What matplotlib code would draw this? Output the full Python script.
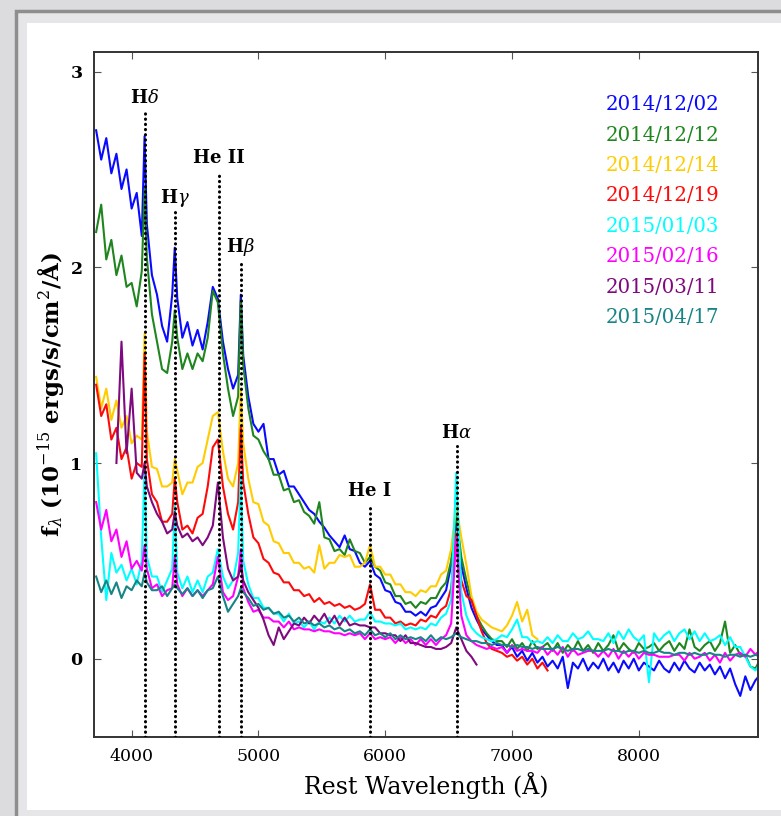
"""
Spectral sequence of a transient: 8 epochs, flux vs rest wavelength,
with the main Balmer / He lines marked.
"""
import numpy as np
import matplotlib
matplotlib.use("Agg")
import matplotlib.pyplot as plt
from matplotlib.patches import Rectangle

plt.rcParams["font.family"] = ["DejaVu Serif"]
plt.rcParams["mathtext.fontset"] = "dejavuserif"

# ---- data ----
STEP = 40.0  # sampling of the flux lists, Angstrom

dates = ["2014/12/02", "2014/12/12", "2014/12/14", "2014/12/19",
         "2015/01/03", "2015/02/16", "2015/03/11", "2015/04/17"]
colors = ["#0a0aff", "#1f861f", "#ffcc00", "#ff0a0a",
          "#00ffff", "#ff00ff", "#7f0a7f", "#178585"]

starts = [3720, 3720, 3720, 3720, 3720, 3720, 3880, 3720]

flux_1202 = [
    2.70, 2.55, 2.66, 2.48, 2.58, 2.40, 2.50, 2.30, 2.38, 2.16,
    2.22, 1.96, 1.86, 1.70, 1.62, 1.86, 1.84, 1.64, 1.72, 1.60,
    1.68, 1.58, 1.72, 1.90, 1.84, 1.62, 1.48, 1.38, 1.45, 1.55,
    1.34, 1.20, 1.16, 1.20, 1.02, 1.02, 0.94, 0.96, 0.88, 0.88,
    0.84, 0.80, 0.76, 0.74, 0.70, 0.67, 0.63, 0.60, 0.57, 0.63,
    0.56, 0.55, 0.49, 0.47, 0.50, 0.43, 0.41, 0.35, 0.34, 0.29,
    0.28, 0.24, 0.24, 0.22, 0.24, 0.22, 0.26, 0.27, 0.31, 0.35,
    0.48, 0.72, 0.48, 0.36, 0.26, 0.20, 0.15, 0.12, 0.09, 0.07,
    0.07, 0.03, 0.06, 0.01, 0.04, -0.01, 0.03, -0.02, 0.01, -0.04,
    -0.01, -0.05, 0.01, -0.15, -0.02, -0.05, 0.00, -0.06, -0.02, -0.05,
    0.00, -0.06, -0.02, -0.07, -0.01, -0.05, 0.00, -0.06, -0.02, -0.04,
    -0.06, -0.01, -0.05, -0.07, -0.02, -0.06, -0.01, -0.05, -0.07, -0.02,
    -0.06, -0.03, -0.08, -0.04, -0.10, -0.05, -0.13, -0.19, -0.09, -0.16,
    -0.11, -0.08,
]
flux_1212 = [
    2.18, 2.32, 2.04, 2.14, 1.96, 2.06, 1.90, 1.92, 1.80, 1.98,
    2.05, 1.76, 1.62, 1.48, 1.46, 1.62, 1.64, 1.48, 1.56, 1.48,
    1.56, 1.52, 1.64, 1.88, 1.82, 1.56, 1.38, 1.24, 1.34, 1.50,
    1.28, 1.14, 1.12, 1.06, 1.02, 0.94, 0.94, 0.86, 0.87, 0.80,
    0.81, 0.75, 0.73, 0.69, 0.80, 0.62, 0.61, 0.55, 0.56, 0.53,
    0.61, 0.55, 0.54, 0.49, 0.52, 0.47, 0.45, 0.39, 0.38, 0.32,
    0.32, 0.28, 0.29, 0.26, 0.29, 0.28, 0.31, 0.31, 0.36, 0.39,
    0.50, 0.74, 0.52, 0.40, 0.30, 0.22, 0.17, 0.13, 0.10, 0.09,
    0.09, 0.06, 0.10, 0.05, 0.08, 0.04, 0.09, 0.05, 0.06, 0.08,
    0.04, 0.08, 0.03, 0.07, 0.04, 0.09, 0.04, 0.07, 0.03, 0.08,
    0.04, 0.07, 0.12, 0.04, 0.08, 0.05, 0.03, 0.08, 0.05, 0.06,
    0.08, 0.04, 0.07, 0.09, 0.04, 0.08, 0.05, 0.15, 0.06, 0.04,
    0.07, 0.09, 0.04, 0.08, 0.19, 0.03, 0.07, 0.02, 0.02, -0.04,
    -0.05, 0.00,
]
flux_1214 = [
    1.44, 1.28, 1.38, 1.22, 1.32, 1.18, 1.24, 1.10, 1.14, 1.12,
    1.16, 0.98, 0.97, 0.88, 0.88, 0.90, 0.96, 0.84, 0.90, 0.90,
    0.98, 1.00, 1.12, 1.24, 1.26, 1.06, 0.92, 0.88, 1.00, 1.10,
    0.92, 0.80, 0.79, 0.70, 0.68, 0.60, 0.59, 0.54, 0.54, 0.49,
    0.49, 0.46, 0.47, 0.44, 0.58, 0.46, 0.49, 0.49, 0.53, 0.52,
    0.53, 0.47, 0.47, 0.49, 0.58, 0.47, 0.47, 0.43, 0.43, 0.38,
    0.38, 0.34, 0.34, 0.32, 0.35, 0.34, 0.37, 0.37, 0.43, 0.45,
    0.56, 0.78, 0.62, 0.48, 0.32, 0.24, 0.20, 0.18, 0.16, 0.15,
    0.14, 0.17, 0.22, 0.29, 0.19, 0.25, 0.12, 0.10,
]
flux_1219 = [
    1.40, 1.24, 1.30, 1.12, 1.18, 1.02, 1.08, 0.92, 1.00, 0.98,
    1.02, 0.84, 0.80, 0.70, 0.70, 0.74, 0.80, 0.66, 0.68, 0.64,
    0.72, 0.74, 0.88, 1.08, 1.12, 0.88, 0.74, 0.66, 0.80, 0.90,
    0.74, 0.62, 0.59, 0.51, 0.49, 0.44, 0.43, 0.39, 0.39, 0.35,
    0.35, 0.32, 0.33, 0.29, 0.31, 0.28, 0.29, 0.27, 0.28, 0.26,
    0.27, 0.25, 0.26, 0.28, 0.38, 0.25, 0.25, 0.21, 0.21, 0.18,
    0.19, 0.17, 0.18, 0.17, 0.20, 0.19, 0.22, 0.21, 0.25, 0.27,
    0.36, 0.64, 0.40, 0.32, 0.30, 0.22, 0.14, 0.08, 0.05, 0.04,
    0.03, 0.01, 0.02, -0.01, 0.01, -0.03, 0.00, -0.05, -0.02, -0.06,
]
flux_0103 = [
    1.05, 0.62, 0.30, 0.54, 0.44, 0.48, 0.40, 0.46, 0.38, 0.50,
    0.52, 0.42, 0.42, 0.34, 0.40, 0.46, 0.44, 0.36, 0.42, 0.34,
    0.40, 0.34, 0.42, 0.44, 0.56, 0.42, 0.36, 0.40, 0.54, 0.50,
    0.38, 0.31, 0.31, 0.26, 0.26, 0.23, 0.23, 0.19, 0.23, 0.18,
    0.19, 0.16, 0.19, 0.15, 0.19, 0.18, 0.21, 0.18, 0.22, 0.19,
    0.22, 0.19, 0.20, 0.20, 0.24, 0.19, 0.19, 0.18, 0.18, 0.17,
    0.18, 0.15, 0.16, 0.15, 0.16, 0.15, 0.18, 0.17, 0.21, 0.23,
    0.30, 0.95, 0.34, 0.22, 0.16, 0.13, 0.11, 0.10, 0.09, 0.10,
    0.12, 0.11, 0.15, 0.20, 0.11, 0.11, 0.08, 0.09, 0.08, 0.11,
    0.08, 0.12, 0.09, 0.09, 0.13, 0.10, 0.11, 0.14, 0.10, 0.10,
    0.09, 0.13, 0.08, 0.14, 0.10, 0.15, 0.11, 0.09, 0.12, -0.12,
    0.13, 0.09, 0.12, 0.14, 0.09, 0.13, 0.15, 0.10, 0.14, 0.09,
    0.13, 0.09, 0.10, 0.12, 0.07, 0.11, 0.06, 0.06, 0.01, -0.04,
    -0.06, -0.02,
]
flux_0216 = [
    0.80, 0.66, 0.76, 0.60, 0.66, 0.52, 0.60, 0.46, 0.50, 0.45,
    0.46, 0.36, 0.38, 0.32, 0.35, 0.36, 0.38, 0.32, 0.36, 0.32,
    0.35, 0.32, 0.35, 0.38, 0.52, 0.34, 0.30, 0.32, 0.42, 0.36,
    0.29, 0.24, 0.25, 0.21, 0.21, 0.19, 0.19, 0.16, 0.19, 0.15,
    0.16, 0.15, 0.15, 0.14, 0.15, 0.14, 0.14, 0.13, 0.13, 0.12,
    0.13, 0.12, 0.13, 0.10, 0.13, 0.10, 0.11, 0.10, 0.11, 0.08,
    0.11, 0.08, 0.10, 0.07, 0.10, 0.07, 0.10, 0.07, 0.10, 0.12,
    0.18, 0.62, 0.22, 0.12, 0.09, 0.07, 0.06, 0.05, 0.06, 0.05,
    0.06, 0.03, 0.07, 0.04, 0.05, 0.04, 0.04, 0.03, 0.06, 0.02,
    0.05, 0.02, 0.06, 0.01, 0.05, 0.02, 0.03, 0.04, 0.04, 0.01,
    0.04, 0.01, 0.05, 0.00, 0.04, 0.01, 0.04, 0.00, 0.03, 0.02,
    0.02, 0.01, 0.01, 0.01, 0.02, 0.02, -0.01, 0.03, 0.00, 0.01,
    0.03, -0.01, 0.02, -0.02, 0.03, -0.01, 0.02, 0.03, 0.01, 0.05,
    0.02, 0.05,
]
flux_0311 = [
    1.00, 1.62, 1.05, 1.38, 0.95, 0.92,
    0.88, 0.80, 0.74, 0.70, 0.64, 0.66, 0.68, 0.62, 0.64, 0.60,
    0.62, 0.58, 0.62, 0.68, 0.90, 0.62, 0.46, 0.40, 0.42, 0.40,
    0.34, 0.30, 0.26, 0.20, 0.12, 0.07, 0.16, 0.10, 0.14, 0.18,
    0.17, 0.21, 0.18, 0.22, 0.19, 0.23, 0.18, 0.22, 0.17, 0.21,
    0.17, 0.18, 0.17, 0.17, 0.16, 0.16, 0.13, 0.13, 0.12, 0.12,
    0.09, 0.12, 0.08, 0.08, 0.07, 0.06, 0.06, 0.05, 0.05, 0.06,
    0.08, 0.16, 0.10, 0.04, 0.01, -0.03,
]
flux_0417 = [
    0.42, 0.34, 0.40, 0.33, 0.39, 0.31, 0.37, 0.35, 0.40, 0.37,
    0.39, 0.35, 0.35, 0.37, 0.32, 0.36, 0.36, 0.33, 0.36, 0.32,
    0.35, 0.31, 0.35, 0.36, 0.42, 0.32, 0.24, 0.28, 0.32, 0.34,
    0.31, 0.27, 0.28, 0.25, 0.26, 0.23, 0.24, 0.21, 0.22, 0.19,
    0.21, 0.18, 0.19, 0.17, 0.18, 0.16, 0.17, 0.15, 0.16, 0.14,
    0.15, 0.13, 0.14, 0.12, 0.15, 0.12, 0.13, 0.11, 0.13, 0.10,
    0.12, 0.10, 0.11, 0.10, 0.11, 0.09, 0.12, 0.09, 0.11, 0.10,
    0.11, 0.13, 0.11, 0.10, 0.09, 0.09, 0.08, 0.08, 0.07, 0.08,
    0.07, 0.07, 0.06, 0.07, 0.06, 0.06, 0.05, 0.06, 0.05, 0.05,
    0.05, 0.06, 0.05, 0.04, 0.05, 0.05, 0.04, 0.05, 0.04, 0.04,
    0.04, 0.05, 0.04, 0.04, 0.03, 0.04, 0.04, 0.03, 0.04, 0.03,
    0.03, 0.04, 0.03, 0.03, 0.02, 0.03, 0.03, 0.02, 0.03, 0.02,
    0.02, 0.03, 0.02, 0.02, 0.01, 0.02, 0.02, 0.01, 0.02, 0.01,
    0.02, 0.01,
]
fluxes = [flux_1202, flux_1212, flux_1214, flux_1219,
          flux_0103, flux_0216, flux_0311, flux_0417]

# narrow line peaks (wavelength, flux) per epoch: Hdelta, Hgamma, Hbeta
peaks = [
    [(4102, 2.67), (4340, 2.10), (4861, 1.86)],
    [(4102, 2.40), (4340, 1.78), (4861, 1.83)],
    [(4102, 1.66), (4340, 1.02), (4861, 1.38)],
    [(4102, 1.56), (4340, 0.92), (4861, 1.18)],
    [(4102, 0.98), (4340, 0.78), (4861, 0.95)],
    [(4102, 0.58), (4340, 0.52), (4861, 0.56)],
    [(4102, 1.00), (4340, 0.75), (4861, 0.48)],
    [(4102, 0.44), (4340, 0.38), (4861, 0.36)],
]

line_names = [r"H$\delta$", r"H$\gamma$", "He II", r"H$\beta$", "He I", r"H$\alpha$"]
line_waves = [4102, 4340, 4686, 4861, 5876, 6563]
line_tops = [2.80, 2.28, 2.49, 2.03, 0.79, 1.085]


def spectrum(start, flux, pk):
    wave = start + STEP * np.arange(len(flux))
    w = np.concatenate([wave, [p[0] for p in pk]])
    f = np.concatenate([np.asarray(flux, dtype=float), [p[1] for p in pk]])
    order = np.argsort(w)
    return w[order], f[order]


W, H = 781, 816
fig = plt.figure(figsize=(W / 100, H / 100), dpi=100)
fig.patch.set_facecolor("#dcdcde")

# slide-like frame around the plot
fig.add_artist(Rectangle((16 / W, 1 - 840 / H), 900 / W, (840 - 11) / H,
                         transform=fig.transFigure, facecolor="#e6e6e8",
                         edgecolor="#8e8e8e", linewidth=2.5, zorder=0))
fig.add_artist(Rectangle((27 / W, 1 - 810 / H), 800 / W, (810 - 23) / H,
                         transform=fig.transFigure, facecolor="white",
                         edgecolor="none", zorder=0))

ax = fig.add_axes([93.6 / W, 1 - 737 / H, (758 - 93.6) / W, (737 - 52) / H])
ax.set_facecolor("white")

for date, col, st, fl, pk in zip(dates, colors, starts, fluxes, peaks):
    w, f = spectrum(st, fl, pk)
    ax.plot(w, f, color=col, linewidth=1.5, label=date, zorder=2)

for name, lw0, top in zip(line_names, line_waves, line_tops):
    ax.plot([lw0, lw0], [-0.4, top], color="black", linewidth=2.2,
            linestyle=(0, (0.1, 1.6)), dash_capstyle="round", zorder=3)
    ax.text(lw0, top + 0.02, name, ha="center", va="bottom",
            fontsize=13, fontweight="bold", zorder=4)

ax.set_xlim(3700, 8940)
ax.set_ylim(-0.4, 3.1)
ax.set_xticks([4000, 5000, 6000, 7000, 8000])
ax.set_yticks([0, 1, 2, 3])
ax.tick_params(direction="in", top=True, right=True, length=5, width=0.8,
               color="#555555", labelsize=12.5, pad=8)
for lab in ax.get_yticklabels():
    lab.set_fontweight("bold")
for sp in ax.spines.values():
    sp.set_color("#333333")
    sp.set_linewidth(1.4)

ax.set_xlabel("Rest Wavelength (Å)", fontsize=17, labelpad=5)
ax.set_ylabel(r"f$_\lambda$ (10$^{-15}$ ergs/s/cm$^2$/Å)", fontsize=16.5,
              fontweight="bold", labelpad=3)

leg = ax.legend(loc="upper right", bbox_to_anchor=(0.942, 0.937),
                frameon=False, handlelength=0, handletextpad=0,
                borderaxespad=0, borderpad=0, labelspacing=0.58,
                prop={"size": 14.2}, labelcolor="linecolor")
for h in leg.legend_handles:
    h.set_visible(False)

fig.savefig("out.png", dpi=100, facecolor=fig.get_facecolor())
